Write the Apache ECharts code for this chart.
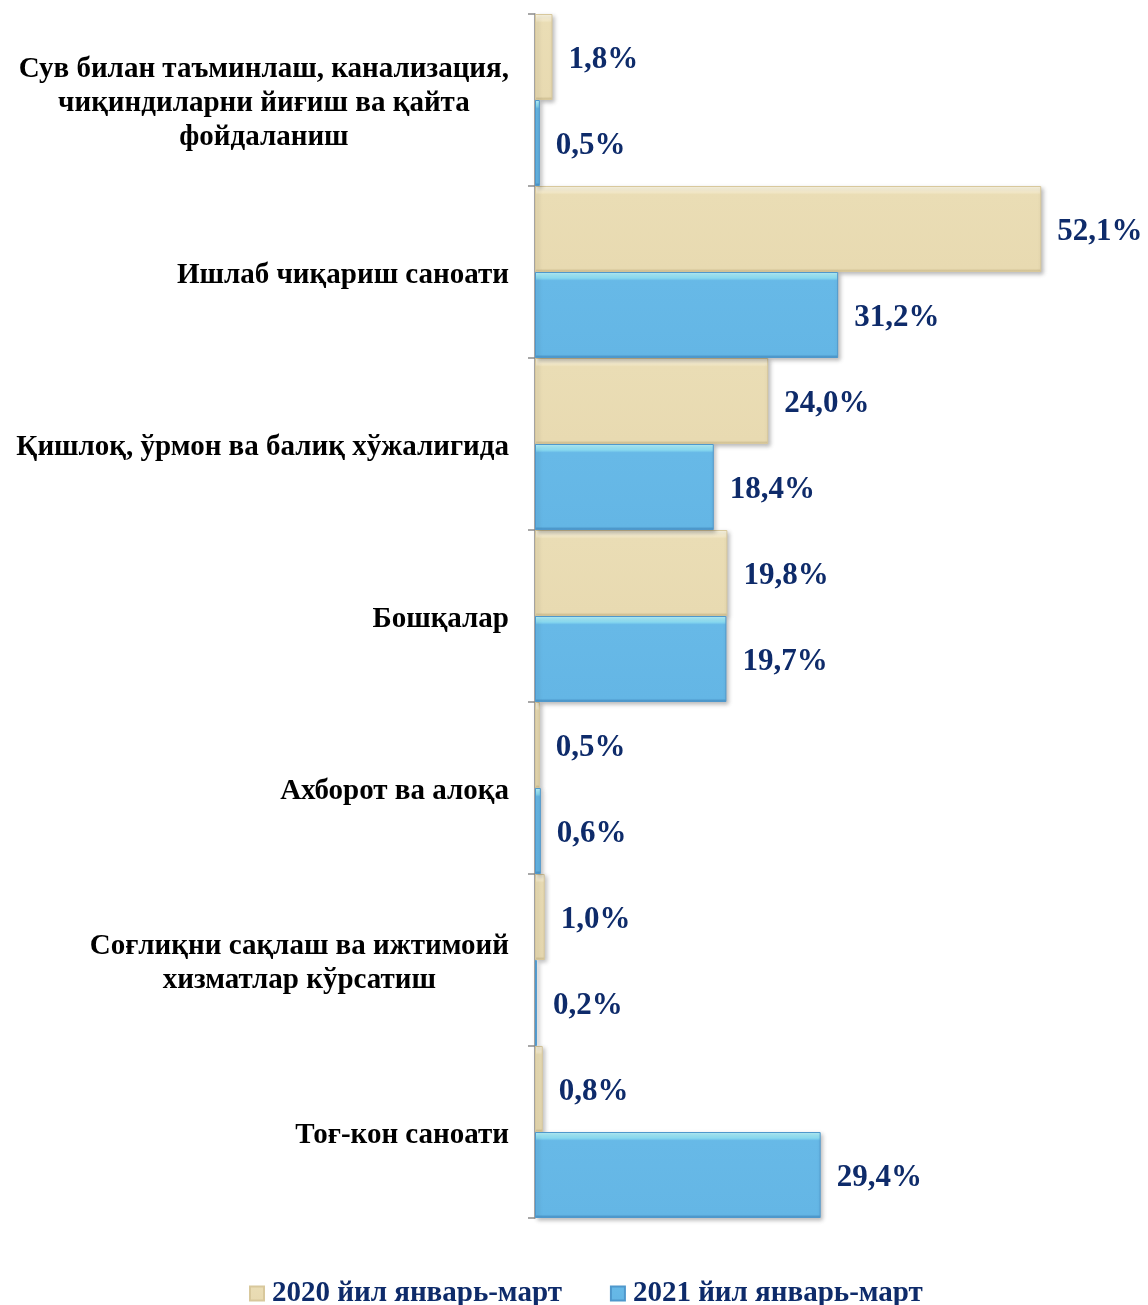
<!DOCTYPE html>
<html>
<head>
<meta charset="utf-8">
<script src="https://cdn.jsdelivr.net/npm/echarts@6/dist/echarts.min.js"></script>
<style>
  html, body { margin: 0; padding: 0; background: #fff; }
  #chart { width: 1148px; height: 1305px; }
</style>
</head>
<body>
<div id="chart"></div>
<script>
// categories, top to bottom
const categories = [
  'Сув билан таъминлаш, канализация,\nчиқиндиларни йиғиш ва қайта\nфойдаланиш',
  'Ишлаб чиқариш саноати',
  'Қишлоқ, ўрмон ва балиқ хўжалигида',
  'Бошқалар',
  'Ахборот ва алоқа',
  'Соғлиқни сақлаш ва ижтимоий\nхизматлар кўрсатиш',
  'Тоғ-кон саноати'
]
const seriesNames = ['2020 йил январь-март', '2021 йил январь-март']
const values2020 = [1.8, 52.1, 24.0, 19.8, 0.5, 1.0, 0.8]
const values2021 = [0.5, 31.2, 18.4, 19.7, 0.6, 0.2, 29.4]

const serif = "'Liberation Serif', 'Times New Roman', serif"
const navy = '#0E2B6A'

const chart = echarts.init(document.getElementById('chart'))

// bevel-ish fill
const beigeFill = new echarts.graphic.LinearGradient(0, 0, 0, 1, [
  { offset: 0, color: '#FCF8E6' },
  { offset: 0.07, color: '#F4EACB' },
  { offset: 0.1, color: '#EADDB5' },
  { offset: 0.96, color: '#E8DAB1' },
  { offset: 1, color: '#CDBB8C' }
])
const blueFill = new echarts.graphic.LinearGradient(0, 0, 0, 1, [
  { offset: 0, color: '#B8F3FB' },
  { offset: 0.07, color: '#8ADCF2' },
  { offset: 0.1, color: '#67B9E7' },
  { offset: 0.96, color: '#64B6E5' },
  { offset: 1, color: '#3F88BF' }
])

const valueLabel = {
  show: true,
  position: 'right',
  distance: 16,
  offset: [0, 3],
  color: navy,
  fontFamily: serif,
  fontWeight: 'bold',
  fontSize: 31,
  formatter: p => p.value.toFixed(1).replace('.', ',') + '%'
}

const option = {
  backgroundColor: '#fff',
  animation: false,
  grid: { left: 535, right: 30, top: 14, bottom: 87 },
  legend: {
    top: 1274,
    left: 244,
    itemWidth: 14,
    itemHeight: 14,
    itemGap: 48,
    icon: 'rect',
    textStyle: { color: navy, fontFamily: serif, fontWeight: 'bold', fontSize: 29, padding: [3, 0, 0, 3] },
    data: seriesNames
  },
  xAxis: {
    type: 'value',
    min: 0,
    max: 60,
    show: false
  },
  yAxis: {
    type: 'category',
    inverse: true,
    data: categories,
    axisLine: { show: true, lineStyle: { color: '#8C8C8C', width: 1.5 } },
    axisTick: { show: true, length: 7, lineStyle: { color: '#8C8C8C', width: 1.5 } },
    axisLabel: {
      margin: 26,
      align: 'right',
      padding: [8, 0, 0, 0],
      formatter: v => v.split('\n').map(l => '{c|' + l + '}').join('\n'),
      rich: {
        c: {
          align: 'center',
          color: '#000',
          fontFamily: serif,
          fontWeight: 'bold',
          fontSize: 29,
          lineHeight: 34
        }
      }
    }
  },
  series: [
    {
      name: seriesNames[0],
      type: 'bar',
      data: values2020,
      barGap: '0%',
      barCategoryGap: '0%',
      itemStyle: {
        color: beigeFill,
        borderColor: '#D8C89C',
        borderWidth: 1,
        shadowColor: 'rgba(0,0,0,0.25)',
        shadowBlur: 4,
        shadowOffsetX: 2,
        shadowOffsetY: 2
      },
      label: valueLabel
    },
    {
      name: seriesNames[1],
      type: 'bar',
      data: values2021,
      itemStyle: {
        color: blueFill,
        borderColor: '#4F98CC',
        borderWidth: 1,
        shadowColor: 'rgba(0,0,0,0.25)',
        shadowBlur: 4,
        shadowOffsetX: 2,
        shadowOffsetY: 2
      },
      label: valueLabel
    }
  ]
}

chart.setOption(option)
</script>
</body>
</html>
